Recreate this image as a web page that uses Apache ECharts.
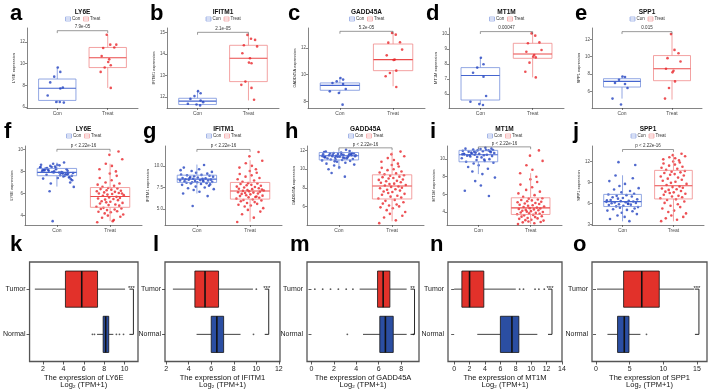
<!DOCTYPE html>
<html>
<head>
<meta charset="utf-8">
<script src="https://cdn.jsdelivr.net/npm/echarts@6/dist/echarts.min.js"></script>
<style>
  html, body { margin: 0; background: #fff; }
  #main { width: 708px; height: 390px; }
</style>
</head>
<body>
<div id="main"></div>
<script>
// gene per column
const genes = ['LY6E', 'IFITM1', 'GADD45A', 'MT1M', 'SPP1'];
const groups = ['Con', 'Treat'];
const tcgaGroups = ['Normal', 'Tumor'];

// a-e : small cohort, box stats [min, Q1, median, Q3, max]
const conBoxSmall = [[6.4, 6.6, 7.73, 8.58, 9.64], [11.63, 11.66, 11.82, 11.95, 12.28], [8.6, 8.83, 9.2, 9.38, 9.75], [5.33, 5.6, 7.24, 7.76, 8.42], [5.18, 6.51, 7.16, 7.47, 7.73]];
const treatBoxSmall = [[7.76, 9.64, 10.55, 11.5, 12.67], [11.85, 12.72, 13.8, 14.4, 14.88], [9.13, 10.3, 11.13, 12.3, 13.13], [7.11, 8.38, 8.67, 9.38, 10.04], [5.07, 7.24, 8.61, 10.13, 12.6]];
const conPtsSmall = [
  [9.64, 9.24, 8.8, 8.27, 7.7, 7.8, 7.06, 6.45, 6.45, 6.4],
  [12.28, 12.18, 12.05, 11.92, 11.85, 11.77, 11.7, 11.66, 11.62],
  [9.75, 9.63, 9.5, 9.38, 9.3, 8.93, 8.75, 8.63, 7.75],
  [8.42, 7.98, 7.76, 7.42, 7.15, 5.87, 5.49, 5.33, 5.27],
  [7.73, 7.66, 7.35, 6.97, 6.86, 6.4, 5.18, 4.5]
];
const treatPtsSmall = [
  [12.67, 11.76, 11.5, 11.45, 11.76, 10.7, 10.4, 10.15, 9.85, 9.64, 9.24, 7.76],
  [14.88, 14.7, 14.65, 14.4, 14.35, 14.03, 13.8, 13.6, 13.57, 12.72, 12.57, 12.43, 11.88],
  [13.12, 13.0, 12.43, 12.4, 11.88, 11.45, 11.13, 11.1, 10.3, 10.13, 9.88, 9.08],
  [10.04, 9.89, 9.44, 9.38, 8.93, 8.82, 8.6, 8.49, 8.44, 8.09, 7.49, 7.11],
  [12.6, 10.78, 10.4, 9.83, 9.45, 8.61, 8.38, 8.2, 7.16, 6.4, 5.18]
];

// f-j : large cohort
const conBoxLarge = [[6.63, 7.61, 7.91, 8.27, 8.8], [6.8, 8.08, 8.46, 8.92, 10.15], [10.0, 11.0, 11.45, 11.8, 12.1], [8.3, 9.7, 10.5, 11.0, 11.3], [3.47, 5.58, 6.28, 7.31, 10.03]];
const treatBoxLarge = [[3.5, 4.75, 5.73, 6.54, 8.7], [3.54, 6.15, 7.08, 8.08, 10.65], [4.4, 6.8, 8.2, 9.4, 11.9], [2.6, 3.7, 4.45, 5.6, 8.4], [3.47, 6.66, 8.53, 10.73, 13.08]];
const conPtsLarge = [
  [8.8,8.1,7.9,8.4,7.6,8.2,7.7,8.6,7.95,8.3,7.5,8.0,7.85,8.5,7.4,8.15,7.75,8.7,7.9,8.25,7.3,8.05,7.65,8.35,7.8,8.45,7.55,8.1,7.2,7.95,8.6,7.7,8.2,6.9,7.85,8.0,7.45,8.3,7.6,8.15,6.6,7.9,8.55,7.35,8.05,6.2,7.8,8.4,7.0,3.5],
  [10.1,9.8,9.6,9.4,9.3,9.2,9.1,9.0,8.95,8.9,8.85,8.8,8.75,8.7,8.65,8.6,8.55,8.5,8.5,8.45,8.4,8.4,8.35,8.3,8.3,8.25,8.2,8.2,8.15,8.1,8.1,8.05,8.0,7.95,7.9,7.8,7.7,7.6,7.5,7.4,7.3,7.2,7.0,6.8,6.5,8.6,8.3,9.5,7.85,5.35],
  [12.1,11.9,11.8,11.75,11.7,11.65,11.6,11.6,11.55,11.5,11.5,11.45,11.4,11.4,11.35,11.3,11.3,11.25,11.2,11.15,11.1,11.05,11.0,10.95,10.9,10.8,10.7,10.6,10.5,10.4,10.2,10.0,11.45,11.55,11.25,11.85,11.65,11.35,11.15,11.7,11.5,11.05,11.6,11.3,11.95,9.6,9.2,11.4,11.75,10.85],
  [11.3,11.2,11.15,11.1,11.05,11.0,11.0,10.95,10.9,10.85,10.8,10.75,10.7,10.65,10.6,10.55,10.5,10.5,10.45,10.4,10.35,10.3,10.2,10.1,10.0,9.9,9.8,9.7,9.6,9.5,9.3,9.1,8.9,8.6,8.3,10.6,10.9,10.25,11.05,10.45,7.9,7.5,7.0,6.4,5.8,10.75,9.95,10.55,11.2,10.85],
  [3.5,3.8,4.1,4.3,4.5,4.7,4.9,5.0,5.1,5.2,5.3,5.4,5.5,5.6,5.7,5.8,5.85,5.9,6.0,6.05,6.1,6.15,6.2,6.25,6.3,6.35,6.4,6.5,6.6,6.7,6.8,6.9,7.0,7.1,7.2,7.3,7.4,7.6,7.8,8.0,8.2,8.5,8.8,9.2,9.6,10.0,5.95,6.45,11.5,11.9]
];
const treatPtsLarge = [
  [3.4,3.6,3.8,3.9,4.0,4.1,4.2,4.3,4.35,4.4,4.5,4.55,4.6,4.65,4.7,3.5,4.8,4.9,4.95,5.0,5.1,5.15,5.2,5.25,5.3,5.4,5.45,5.5,5.55,5.6,5.65,5.7,5.8,5.85,5.9,5.95,6.0,6.05,6.1,6.15,6.2,6.25,6.3,6.35,6.4,6.45,6.5,6.0,6.6,6.7,6.8,6.9,7.0,7.2,7.4,7.6,7.8,8.0,8.2,8.5,8.7,9.1,9.5,9.8],
  [3.5,4.0,4.4,4.7,4.9,5.1,5.3,5.4,5.5,5.6,5.7,5.8,5.9,6.0,6.05,6.1,6.2,6.3,6.35,6.4,6.5,6.55,6.6,6.7,6.75,6.8,6.85,6.9,6.95,7.0,7.05,6.45,7.1,7.15,7.2,7.3,7.35,7.4,7.5,7.55,7.6,7.7,7.75,7.8,7.9,7.95,8.0,7.25,8.15,8.3,8.45,8.6,8.75,8.9,9.05,9.2,9.4,9.6,9.8,10.0,10.3,10.6,11.1,11.6],
  [4.2,4.5,4.8,5.0,5.2,5.4,5.6,5.8,5.9,6.0,6.1,6.2,6.3,6.45,6.6,6.7,6.85,6.95,7.05,7.15,7.25,7.35,7.45,7.55,7.6,7.7,7.8,7.85,7.95,8.0,8.1,8.15,8.25,8.3,8.4,8.45,8.55,8.6,8.7,8.75,8.85,8.9,9.0,9.05,9.15,9.2,9.3,9.35,9.45,9.55,9.65,9.75,9.9,10.0,10.15,10.3,10.45,10.6,10.8,11.0,11.2,11.4,11.6,11.9],
  [2.6,2.7,2.8,2.85,2.9,3.0,3.05,3.1,3.2,3.25,3.3,3.4,3.45,3.5,3.6,3.65,3.72,3.78,3.82,3.88,3.92,3.98,4.02,4.08,4.12,4.18,4.22,4.28,4.32,4.38,4.42,4.48,4.55,4.6,4.7,4.75,4.8,4.9,4.95,5.0,5.1,5.15,5.2,5.3,5.35,5.4,5.5,5.55,5.7,5.9,6.1,6.3,6.5,6.8,7.1,7.4,7.7,8.0,8.4,8.8,9.3,9.8,10.4,11.0],
  [3.5,3.7,3.9,4.1,4.3,4.6,4.8,5.0,5.3,5.5,5.7,5.9,6.1,6.3,6.5,6.6,6.75,6.9,7.0,7.1,7.25,7.4,7.5,7.6,7.7,7.8,7.95,8.05,8.15,8.25,8.35,8.45,8.65,8.8,8.95,9.1,9.25,9.4,9.55,9.7,9.85,10.0,10.1,10.2,10.35,10.45,10.55,10.65,10.8,10.95,11.1,11.25,11.4,11.55,11.7,11.85,12.0,12.15,12.3,12.45,12.6,12.75,12.9,13.1]
];

const jitterSmall = [0.01, 0.06, -0.06, -0.14, 0.06, 0.11, -0.19, -0.02, 0.05, 0.13, -0.09, 0.17, -0.12, 0.03];
const jitterLarge = [0.42,-0.77,0.13,-0.31,0.88,-0.05,0.61,-0.93,0.27,-0.58,0.74,-0.16,0.95,-0.39,0.05,-0.84,0.51,-0.22,0.33,-0.67,0.82,-0.48,0.19,-0.99,0.66,-0.11,0.38,-0.73,0.9,-0.28,0.02,-0.61,0.57,-0.36,0.24,-0.87,0.71,-0.07,0.46,-0.52,0.99,-0.19,0.15,-0.81,0.63,-0.43,0.35,-0.96,0.78,-0.25,0.09,-0.69,0.53,-0.14,0.86,-0.55,0.29,-0.9,0.68,-0.33,0.11,-0.75,0.48,-0.02];

// y axes of a-j
const yMin = [5.9, 11.5, 7.5, 5.07, 4.1, 3.15, 3.15, 4.0, 2.5, 2.95];
const yMax = [13.3, 15.2, 13.5, 10.4, 13.3, 10.3, 12.3, 12.5, 11.5, 14.2];
const yTicks = [[6, 8, 10, 12], [12, 13, 14, 15], [8, 10, 12], [6, 7, 8, 9, 10], [6, 8, 10, 12], [4, 6, 8, 10], [5, 7.5, 10], [6, 8, 10, 12], [4, 6, 8, 10], [3, 6, 9, 12]];
const pText = ['7.9e-05', '2.1e-05', '5.2e-05', '0.00047', '0.015', 'p < 2.22e-16', 'p < 2.22e-16', 'p < 2.22e-16', 'p < 2.22e-16', 'p < 2.22e-16'];
const pY = [13.05, 15.0, 13.25, 10.16, 12.88, 10.0, 11.9, 12.3, 11.4, 13.7];

// k-o : TCGA, box stats [min, Q1, median, Q3, max]
const tumorBox = [[1.2, 4.2, 5.8, 7.35, 10.05], [2.6, 4.55, 5.45, 6.65, 9.7], [4.3, 5.9, 6.4, 7.0, 8.5], [0, 1.0, 2.0, 3.85, 8.0], [0.15, 4.1, 6.8, 9.4, 14.6]];
const normalBox = [[7.3, 7.9, 8.15, 8.45, 8.9], [4.7, 6.0, 6.5, 7.1, 8.6], [4.6, 6.1, 6.6, 7.3, 8.5], [3.0, 6.0, 7.5, 8.4, 10.8], [1.7, 3.2, 4.2, 4.9, 6.6]];
const tumorOut = [[], [10.0], [0.3, 1.0, 1.7, 2.4, 3.1, 3.7], [8.5, 9.0, 10.5, 11.0, 11.7], []];
const normalOut = [[6.85, 7.05, 9.2, 9.5, 9.9], [9.75], [3.2, 9.1], [], [7.5]];
const sigMark = ['***', '***', '**', '***', '***'];
const bracketX = [10.87, 11.1, 9.2, 12.7, 15.3];
const xMinBot = [0.68, 1.9, -0.4, -0.8, -0.6];
const xMaxBot = [11.32, 12.1, 9.6, 14, 16.5];
const xTicksBot = [[2, 4, 6, 8, 10], [2, 4, 6, 8, 10, 12], [0, 2, 4, 6, 8], [0, 2, 4, 6, 8, 10, 12, 14], [0, 5, 10, 15]];

// layout
const FONT = 'Liberation Sans';
const topGrids = [
  [27, 28, 111, 80], [167, 28, 112, 80], [308, 28, 117, 80], [449, 28, 115, 80], [592, 28, 110, 80],
  [25, 146, 117, 79], [165, 146, 117, 79], [307, 146, 117, 79], [447, 146, 115, 79], [592, 146, 112, 79]
];
const botGrids = [[25, 262, 113, 100], [165, 262, 115, 100], [307, 262, 112, 100], [448, 262, 114, 100], [592, 262, 115, 100]];
const letters = 'abcdefghijklmno'.split('');
const letterX = [10, 150, 288, 426, 575, 4, 143, 285, 430, 573, 10, 153, 290, 430, 573];
const letterY = [14, 132, 245];

const BLUE = '#2444c0', RED = '#e8262b';
const BLUE_BOX = '#7690dc', RED_BOX = '#f08a8a';
const BLUE_MED = '#4565cf', RED_MED = '#ea4a4a';
const HALF_W = 0.37;

const chart = echarts.init(document.getElementById('main'));

// ggplot style open box as a broken line path in data space
function boxPath(x, s) {
  const [lo, q1, , q3, hi] = s;
  const l = x - HALF_W, r = x + HALF_W;
  return [[x, hi], [x, q3], [null, null], [l, q3], [r, q3], [r, q1], [l, q1], [l, q3], [null, null], [x, q1], [x, lo]];
}

function hBox(fill, halfH) {
  return function (params, api) {
    const y = api.value(0);
    const p = k => api.coord([api.value(k), y]);
    const lo = p(1), q1 = p(2), md = p(3), q3 = p(4), hi = p(5);
    const t = api.coord([api.value(3), y + halfH])[1];
    const b = api.coord([api.value(3), y - halfH])[1];
    const st = { stroke: '#111', lineWidth: 0.8 };
    return {
      type: 'group', children: [
        { type: 'line', shape: { x1: lo[0], y1: lo[1], x2: q1[0], y2: lo[1] }, style: st },
        { type: 'line', shape: { x1: q3[0], y1: lo[1], x2: hi[0], y2: lo[1] }, style: st },
        { type: 'rect', shape: { x: q1[0], y: t, width: q3[0] - q1[0], height: b - t }, style: { stroke: '#111', lineWidth: 0.8, fill: fill } },
        { type: 'line', shape: { x1: md[0], y1: t, x2: md[0], y2: b }, style: { stroke: '#111', lineWidth: 1.6 } }
      ]
    };
  };
}

function sigBracket(text) {
  return function (params, api) {
    const top = api.coord([api.value(0), 2]), bot = api.coord([api.value(0), 1]);
    const st = { stroke: '#111', lineWidth: 0.9 };
    return {
      type: 'group', children: [
        { type: 'line', shape: { x1: top[0] - 4, y1: top[1], x2: top[0], y2: top[1] }, style: st },
        { type: 'line', shape: { x1: top[0], y1: top[1], x2: bot[0], y2: bot[1] }, style: st },
        { type: 'line', shape: { x1: bot[0] - 4, y1: bot[1], x2: bot[0], y2: bot[1] }, style: st },
        { type: 'text', x: top[0] - 2, y: top[1] + 2, style: { text: text, fontSize: 6, fontFamily: FONT, fill: '#111', align: 'center', verticalAlign: 'bottom', textAlign: 'center', textVerticalAlign: 'bottom' } }
      ]
    };
  };
}

const option = { animation: false, textStyle: { fontFamily: FONT }, grid: [], xAxis: [], yAxis: [], series: [], graphic: [] };
const axisLineStyle = { color: '#333', width: 0.6 };
const lineSeries = (i, data, color, width, z) => ({
  type: 'line', xAxisIndex: i, yAxisIndex: i, z: z, silent: true, showSymbol: false, symbol: 'none',
  connectNulls: false, lineStyle: { color: color, width: width }, itemStyle: { color: color }, data: data
});

// panels a-j
topGrids.forEach((g, i) => {
  const small = i < 5;
  const k = i % 5;
  option.grid.push({ left: g[0], top: g[1], width: g[2], height: g[3] });
  option.xAxis.push({
    type: 'value', gridIndex: i, min: 0.4, max: 2.6,
    axisLine: { show: true, onZero: false, lineStyle: axisLineStyle },
    axisTick: { show: true, customValues: [1, 2], length: 2, lineStyle: axisLineStyle },
    axisLabel: { show: true, customValues: [1, 2], formatter: v => groups[Math.round(v) - 1], fontSize: 5, color: '#4d4d4d', margin: 3 },
    splitLine: { show: false }
  });
  option.yAxis.push({
    type: 'value', gridIndex: i, min: yMin[i], max: yMax[i],
    axisLine: { show: true, onZero: false, lineStyle: axisLineStyle },
    axisTick: { show: true, customValues: yTicks[i], length: 2, lineStyle: axisLineStyle },
    axisLabel: { show: true, customValues: yTicks[i], formatter: v => (i === 6 ? v.toFixed(1) : String(v)), fontSize: 4.5, color: '#4d4d4d', margin: 2 },
    splitLine: { show: false },
    name: genes[k] + ' expression', nameLocation: 'middle', nameGap: 10,
    nameTextStyle: { fontSize: 4, color: '#222' }
  });
  const conBox = small ? conBoxSmall[k] : conBoxLarge[k];
  const treatBox = small ? treatBoxSmall[k] : treatBoxLarge[k];
  const conPts = small ? conPtsSmall[k] : conPtsLarge[k];
  const treatPts = small ? treatPtsSmall[k] : treatPtsLarge[k];
  const jit = small ? jitterSmall : jitterLarge;
  const sc = small ? [1, 1] : [0.32, 0.26];
  const boxZ = small ? 2 : 4;
  const yb = pY[i];
  option.series.push(
    lineSeries(i, boxPath(1, conBox), BLUE_BOX, 0.8, boxZ),
    lineSeries(i, [[1 - HALF_W, conBox[2]], [1 + HALF_W, conBox[2]]], BLUE_MED, 1.1, boxZ),
    lineSeries(i, boxPath(2, treatBox), RED_BOX, 0.8, boxZ),
    lineSeries(i, [[2 - HALF_W, treatBox[2]], [2 + HALF_W, treatBox[2]]], RED_MED, 1.1, boxZ),
    { type: 'scatter', xAxisIndex: i, yAxisIndex: i, z: 3, silent: true, symbolSize: 2.6, itemStyle: { color: BLUE },
      data: conPts.map((y, n) => [1 + jit[n % jit.length] * sc[0], y]) },
    { type: 'scatter', xAxisIndex: i, yAxisIndex: i, z: 3, silent: true, symbolSize: 2.6, itemStyle: { color: RED },
      data: treatPts.map((y, n) => [2 + jit[(n + 7) % jit.length] * sc[1], y]) },
    // comparison bracket with p value
    Object.assign(lineSeries(i, [[1, yb - (yMax[i] - yMin[i]) * 0.03], [1, yb], [2, yb], [2, yb - (yMax[i] - yMin[i]) * 0.03]], '#555', 0.6, 5), {
      markPoint: { silent: true, symbol: 'circle', symbolSize: 0, data: [{ coord: [1.5, yb], value: pText[i] }],
        label: { show: true, position: 'top', distance: 1, formatter: pText[i], fontSize: 4.5, color: '#333' } }
    })
  );

  // title and legend
  const cx = g[0] + g[2] / 2;
  const ty = small ? 12 : 129, ly = small ? 19 : 136;
  option.graphic.push({ type: 'text', x: cx, y: ty, silent: true,
    style: { text: genes[k], font: 'bold 6.5px "Liberation Sans"', fill: '#111', align: 'center', verticalAlign: 'middle', textAlign: 'center', textVerticalAlign: 'middle' } });
  [[BLUE_BOX, groups[0], cx - 17], [RED_BOX, groups[1], cx + 1]].forEach(([c, t, x0]) => {
    option.graphic.push(
      { type: 'rect', x: x0, y: ly - 2, silent: true, shape: { width: 5, height: 4 }, style: { fill: '#fff', stroke: c, lineWidth: 0.6 } },
      { type: 'line', silent: true, shape: { x1: x0, y1: ly, x2: x0 + 5, y2: ly }, style: { stroke: c, lineWidth: 0.6 } },
      { type: 'text', x: x0 + 6.5, y: ly, silent: true,
        style: { text: t, font: '4.5px "Liberation Sans"', fill: '#333', align: 'left', verticalAlign: 'middle', textAlign: 'left', textVerticalAlign: 'middle' } }
    );
  });
});

// panels k-o
botGrids.forEach((g, j) => {
  const i = 10 + j;
  option.grid.push({ left: g[0], top: g[1], width: g[2], height: g[3], show: true, borderColor: '#555', borderWidth: 1.3, backgroundColor: 'transparent' });
  option.xAxis.push({
    type: 'value', gridIndex: i, min: xMinBot[j], max: xMaxBot[j],
    axisLine: { show: false },
    axisTick: { show: true, customValues: xTicksBot[j], length: 3, lineStyle: { color: '#333', width: 0.8 } },
    axisLabel: { show: true, customValues: xTicksBot[j], fontSize: 7, color: '#222', margin: 4 },
    splitLine: { show: false },
    name: 'The expression of ' + genes[j] + '\nLog₂ (TPM+1)', nameLocation: 'middle', nameGap: 13,
    nameTextStyle: { fontSize: 7.5, lineHeight: 7, color: '#111' }
  });
  option.yAxis.push({
    type: 'value', gridIndex: i, min: 0.4, max: 2.6,
    axisLine: { show: false },
    axisTick: { show: true, customValues: [1, 2], length: 3, lineStyle: { color: '#333', width: 0.8 } },
    axisLabel: { show: true, customValues: [1, 2], formatter: v => tcgaGroups[Math.round(v) - 1], fontSize: 7, color: '#222', margin: 4 },
    splitLine: { show: false }
  });
  option.series.push(
    { type: 'custom', xAxisIndex: i, yAxisIndex: i, z: 2, silent: true, encode: { x: 1, y: 0 }, data: [[2].concat(tumorBox[j])], renderItem: hBox('#e2312a', 0.4) },
    { type: 'custom', xAxisIndex: i, yAxisIndex: i, z: 2, silent: true, encode: { x: 1, y: 0 }, data: [[1].concat(normalBox[j])], renderItem: hBox('#2b4ea2', 0.4) },
    { type: 'scatter', xAxisIndex: i, yAxisIndex: i, z: 3, silent: true, symbolSize: 1.8, itemStyle: { color: '#333' },
      data: tumorOut[j].map(v => [v, 2]).concat(normalOut[j].map(v => [v, 1])) },
    { type: 'custom', xAxisIndex: i, yAxisIndex: i, z: 4, silent: true, encode: { x: 0, y: 1 }, data: [[bracketX[j], 1.5]], renderItem: sigBracket(sigMark[j]) }
  );
});

// panel letters
letters.forEach((t, n) => {
  option.graphic.push({ type: 'text', x: letterX[n], y: letterY[Math.floor(n / 5)], silent: true,
    style: { text: t, font: 'bold 22px "Liberation Sans"', fill: '#000', align: 'left', verticalAlign: 'middle', textAlign: 'left', textVerticalAlign: 'middle' } });
});

chart.setOption(option);
</script>
</body>
</html>
